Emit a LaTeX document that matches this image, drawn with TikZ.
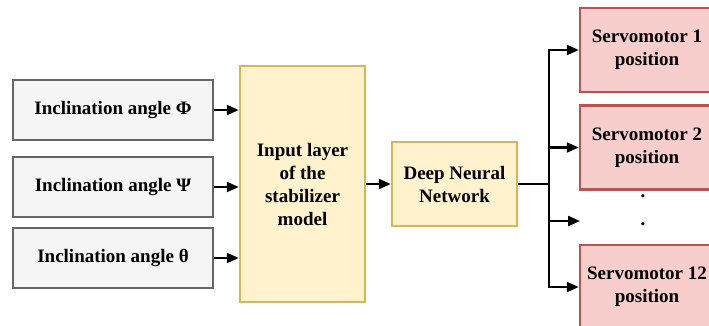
\documentclass[tikz,border=0pt]{standalone}
\usepackage{fontspec}
\setmainfont{Liberation Serif}
\usetikzlibrary{arrows.meta}
\definecolor{grayfill}{HTML}{F5F5F5}
\definecolor{grayline}{HTML}{666666}
\definecolor{yellowfill}{HTML}{FFF2CC}
\definecolor{yellowline}{HTML}{D6B656}
\definecolor{redfill}{HTML}{F8CECC}
\definecolor{redline}{HTML}{B85450}
\tikzset{
	box/.style = {draw, line width = 2.5pt, align = center, inner sep = 0pt,
		font = \fontsize{19}{23}\selectfont\bfseries},
	inbox/.style = {box, fill = grayfill, draw = grayline, minimum width = 200pt, minimum height = 60pt},
	layerbox/.style = {box, fill = yellowfill, draw = yellowline},
	servobox/.style = {box, fill = redfill, draw = redline, minimum width = 134pt, minimum height = 84pt},
	link/.style = {line width = 2.2pt, -{Triangle[length = 12pt, width = 10pt]}}
}
\begin{document}
\begin{tikzpicture}[x = 1pt, y = -1pt]
			\useasboundingbox (0, 0) rectangle (709, 325);
			\begin{scope}
			\clip (0, 0) rectangle (709, 325);
			
			\node[inbox] (phi) at (113, 110) {Inclination angle Φ};
			\node[inbox] (psi) at (113, 187) {Inclination angle Ψ};
			\node[inbox] (theta) at (113, 258) {Inclination angle θ};
			
			\node[layerbox, minimum width = 125pt, minimum height = 236pt] (input) at (302.5, 184)
				{Input layer\\of the\\stabilizer\\model};
			\node[layerbox, minimum width = 125pt, minimum height = 84pt] (dnn) at (454.5, 184)
				{Deep Neural\\Network};
			
			\node[servobox] (servo1) at (647, 50) {Servomotor 1\\position};
			\node[servobox] (servo2) at (647, 147.5) {Servomotor 2\\position};
			\node[servobox] (servo12) at (647, 287) {Servomotor 12\\position};
			\node[font = \fontsize{19}{23}\selectfont\bfseries] (dot1) at (643, 196) {.};
			\node[font = \fontsize{19}{23}\selectfont\bfseries] (dot2) at (643, 224) {.};
			
			\coordinate (fork) at (549, 184);
			\coordinate (dotsin) at (580, 221);
			
			\foreach \src in {phi, psi, theta} {
				\draw[link] (\src.east) -- (\src.east -| input.west);
			}
			\draw[link] (input.east |- dnn.west) -- (dnn.west);
			\draw[line width = 2.2pt] (dnn.east) -- (fork);
			\foreach \dst in {servo1, servo2, servo12} {
				\draw[link] (fork) |- (\dst.west);
			}
			\draw[link] (fork) |- (dotsin);
			\end{scope}
		\end{tikzpicture}
\end{document}
